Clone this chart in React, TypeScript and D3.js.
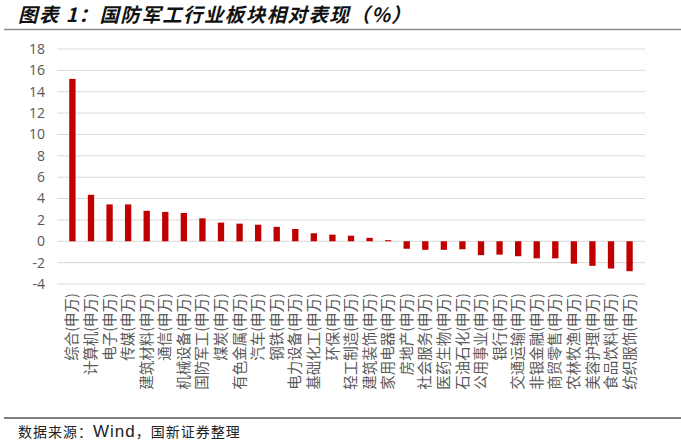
import React, { useRef, useEffect } from 'react';
import * as d3 from 'd3';

const sectors = [
  '综合', '计算机', '电子', '传媒', '建筑材料', '通信', '机械设备', '国防军工',
  '煤炭', '有色金属', '汽车', '钢铁', '电力设备', '基础化工', '环保', '轻工制造',
  '建筑装饰', '家用电器', '房地产', '社会服务', '医药生物', '石油石化', '公用事业', '银行',
  '交通运输', '非银金融', '商贸零售', '农林牧渔', '美容护理', '食品饮料', '纺织服饰',
];
const values = [
  15.2, 4.35, 3.45, 3.45, 2.85, 2.75, 2.65, 2.15,
  1.75, 1.65, 1.55, 1.35, 1.15, 0.75, 0.62, 0.52,
  0.32, 0.1, -0.7, -0.8, -0.8, -0.75, -1.3, -1.25,
  -1.4, -1.6, -1.6, -2.1, -2.3, -2.55, -2.8,
];
const yTicks = [18, 16, 14, 12, 10, 8, 6, 4, 2, 0, -2, -4];

const W = 681;
const H = 446;

export default function App() {
  const ref = useRef<SVGSVGElement>(null);

  useEffect(() => {
    const svg = d3.select(ref.current);
    svg.selectAll('*').remove();

    svg.append('rect').attr('width', W).attr('height', H).attr('fill', '#fff');

    // title and rules
    svg.append('text')
      .attr('x', 18).attr('y', 22)
      .attr('font-family', '"Noto Sans CJK SC", sans-serif')
      .attr('font-size', 19.5)
      .attr('font-weight', 'bold')
      .attr('font-style', 'italic')
      .attr('letter-spacing', 1.4)
      .attr('fill', '#111')
      .text('图表 1：国防军工行业板块相对表现（%）');
    svg.append('line')
      .attr('x1', 4).attr('x2', W).attr('y1', 29.5).attr('y2', 29.5)
      .attr('stroke', '#8c8c8c').attr('stroke-width', 1.5);
    svg.append('line')
      .attr('x1', 4).attr('x2', W).attr('y1', 418).attr('y2', 418)
      .attr('stroke', '#7f7f7f').attr('stroke-width', 2);

    const src = svg.append('text')
      .attr('x', 18).attr('y', 437)
      .attr('font-family', '"Noto Sans CJK SC", sans-serif')
      .attr('font-size', 14)
      .attr('letter-spacing', 1)
      .attr('fill', '#222');
    src.append('tspan').text('数据来源：');
    src.append('tspan')
      .attr('font-family', '"Liberation Sans", sans-serif')
      .attr('font-size', 17)
      .text('Wind');
    src.append('tspan').text('，国新证券整理');

    const x = d3.scaleBand<string>().domain(sectors).range([57, 645]).padding(0.66);
    const y = d3.scaleLinear().domain([-4, 18]).range([284, 49]);

    const g = svg.append('g');

    g.selectAll('line.grid')
      .data(yTicks)
      .enter()
      .append('line')
      .attr('class', 'grid')
      .attr('x1', 57).attr('x2', 645)
      .attr('y1', d => y(d)).attr('y2', d => y(d))
      .attr('stroke', '#d9d9d9').attr('stroke-width', 1);

    g.selectAll('text.tick')
      .data(yTicks)
      .enter()
      .append('text')
      .attr('class', 'tick')
      .attr('x', 45)
      .attr('y', d => y(d))
      .attr('dy', '0.35em')
      .attr('text-anchor', 'end')
      .attr('font-family', '"Open Sans", sans-serif')
      .attr('font-size', 14)
      .attr('fill', '#595959')
      .text(d => d);

    g.selectAll('rect.bar')
      .data(values)
      .enter()
      .append('rect')
      .attr('class', 'bar')
      .attr('x', (_, i) => x(sectors[i])!)
      .attr('y', d => y(Math.max(0, d)))
      .attr('width', x.bandwidth())
      .attr('height', d => Math.abs(y(d) - y(0)))
      .attr('fill', '#c00000');

    g.selectAll('text.cat')
      .data(sectors)
      .enter()
      .append('text')
      .attr('class', 'cat')
      .attr('transform', d => `translate(${x(d)! + x.bandwidth() / 2},293) rotate(-90)`)
      .attr('text-anchor', 'end')
      .attr('dy', '0.35em')
      .attr('font-family', '"Noto Sans CJK SC", sans-serif')
      .attr('font-size', 14.5)
      .attr('fill', '#595959')
      .text(d => `${d}(申万)`);
  }, []);

  return (
    <div style={{ position: 'absolute', left: 0, top: 0 }}>
      <svg ref={ref} width={W} height={H} style={{ display: 'block' }}></svg>
    </div>
  );
}
